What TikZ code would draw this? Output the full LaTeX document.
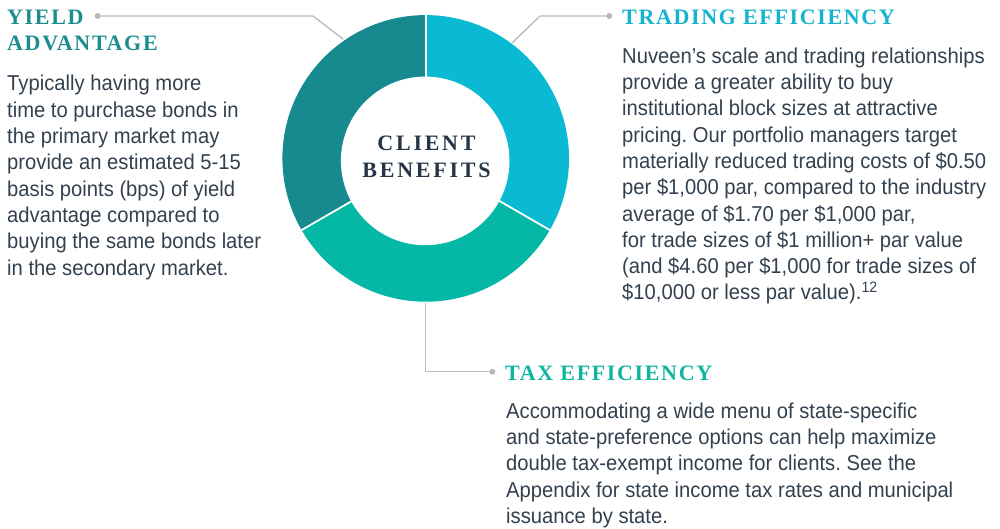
\documentclass[tikz,border=0pt]{standalone}
\usepackage{fontspec}
\setmainfont{Liberation Sans}
\newfontfamily\bodyfont[FakeStretch=0.94]{Liberation Sans}
\newfontfamily\headfont[LetterSpace=7.5]{Liberation Serif}
\newfontfamily\ctrfont[LetterSpace=12.5]{Liberation Serif}
\definecolor{segdark}{HTML}{168A8E}
\definecolor{segcyan}{HTML}{0ABAD3}
\definecolor{seggreen}{HTML}{05B8A6}
\definecolor{hdyield}{HTML}{1B8D8F}
\definecolor{hdtrade}{HTML}{14B4CF}
\definecolor{hdtax}{HTML}{10B5A1}
\definecolor{navy}{HTML}{263546}
\definecolor{bodytxt}{HTML}{33404E}
\definecolor{lgray}{HTML}{B8B8B8}
\frenchspacing
\tikzset{
  bodytext/.style={anchor=base west, inner sep=0pt, text=bodytxt,
    font=\bodyfont\fontsize{21.5}{26.3}\selectfont},
  headtext/.style={anchor=base west, inner sep=0pt,
    font=\headfont\bfseries\fontsize{22}{25.7}\selectfont},
  ctrtext/.style={anchor=base, inner sep=0pt, text=navy,
    font=\ctrfont\bfseries\fontsize{22}{26.7}\selectfont},
  dotnode/.style={circle, fill=lgray, inner sep=0pt, minimum size=6pt},
  conn/.style={draw=lgray, line width=1.3pt, line join=miter},
  sep/.style={draw=white, line width=1.8pt},
}
\begin{document}
\begin{tikzpicture}[x=1pt,y=1pt]
\useasboundingbox (0,0) rectangle (1000,-529);
% donut
\coordinate (cout) at (425.7,-158.4);
\coordinate (cin) at (425.2,-160.9);
\fill[segdark] (cout) -- ++(90:143.3) arc[start angle=90,end angle=210,radius=143.3] -- cycle;
\fill[seggreen] (cout) -- ++(210:143.3) arc[start angle=210,end angle=330,radius=143.3] -- cycle;
\fill[segcyan] (cout) -- ++(-30:143.3) arc[start angle=-30,end angle=90,radius=143.3] -- cycle;
\draw[sep] (cout) -- ++(90:150);
\draw[sep] (cout) -- ++(210:150);
\draw[sep] (cout) -- ++(-30:150);
\fill[white] (cin) circle[radius=84.3];
\node[ctrtext] (center) at (426.5,-151) {\begin{tabular}[t]{@{}c@{}}CLIENT\\BENEFITS\end{tabular}};

% headings
\node[headtext, text=hdyield] (hyield) at (7,-25) {\begin{tabular}[t]{@{}l@{}}YIELD\\ADVANTAGE\end{tabular}};
\node[headtext, text=hdtrade] (htrade) at (622,-25) {TRADING EFFICIENCY};
\node[headtext, text=hdtax] (htax) at (505,-380.7) {TAX EFFICIENCY};

% body texts
\node[bodytext] (byield) at (7,-91) {\begin{tabular}[t]{@{}l@{}}Typically having more\\
time to purchase bonds in\\
the primary market may\\
provide an estimated 5-15\\
basis points (bps) of yield\\
advantage compared to\\
buying the same bonds later\\
in the secondary market.\end{tabular}};

\node[bodytext] (btrade) at (622,-63.3) {\begin{tabular}[t]{@{}l@{}}Nuveen’s scale and trading relationships\\
provide a greater ability to buy\\
institutional block sizes at attractive\\
pricing. Our portfolio managers target\\
materially reduced trading costs of \$0.50\\
per \$1,000 par, compared to the industry\\
average of \$1.70 per \$1,000 par,\\
for trade sizes of \$1 million+ par value\\
(and \$4.60 per \$1,000 for trade sizes of\\
\$10,000 or less par value).\textsuperscript{12}\end{tabular}};

\node[bodytext] (btax) at (506,-418.3) {\begin{tabular}[t]{@{}l@{}}Accommodating a wide menu of state-specific\\
and state-preference options can help maximize\\
double tax-exempt income for clients. See the\\
Appendix for state income tax rates and municipal\\
issuance by state.\end{tabular}};

% connectors
\node[dotnode] (dyield) at (97.7,-16) {};
\coordinate (kyield) at (313,-16);
\coordinate (eyield) at (343.3,-39.3);
\draw[conn] (dyield) -- (kyield) -- (eyield);

\node[dotnode] (dtrade) at (609.3,-16) {};
\coordinate (ktrade) at (540,-16);
\coordinate (etrade) at (512.3,-42.7);
\draw[conn] (dtrade) -- (ktrade) -- (etrade);

\node[dotnode] (dtax) at (492.3,-371.7) {};
\coordinate (stax) at (425.7,-302.5);
\coordinate (ktax) at (425.7,-371.7);
\draw[conn] (stax) -- (ktax) -- (dtax);
\end{tikzpicture}
\end{document}
